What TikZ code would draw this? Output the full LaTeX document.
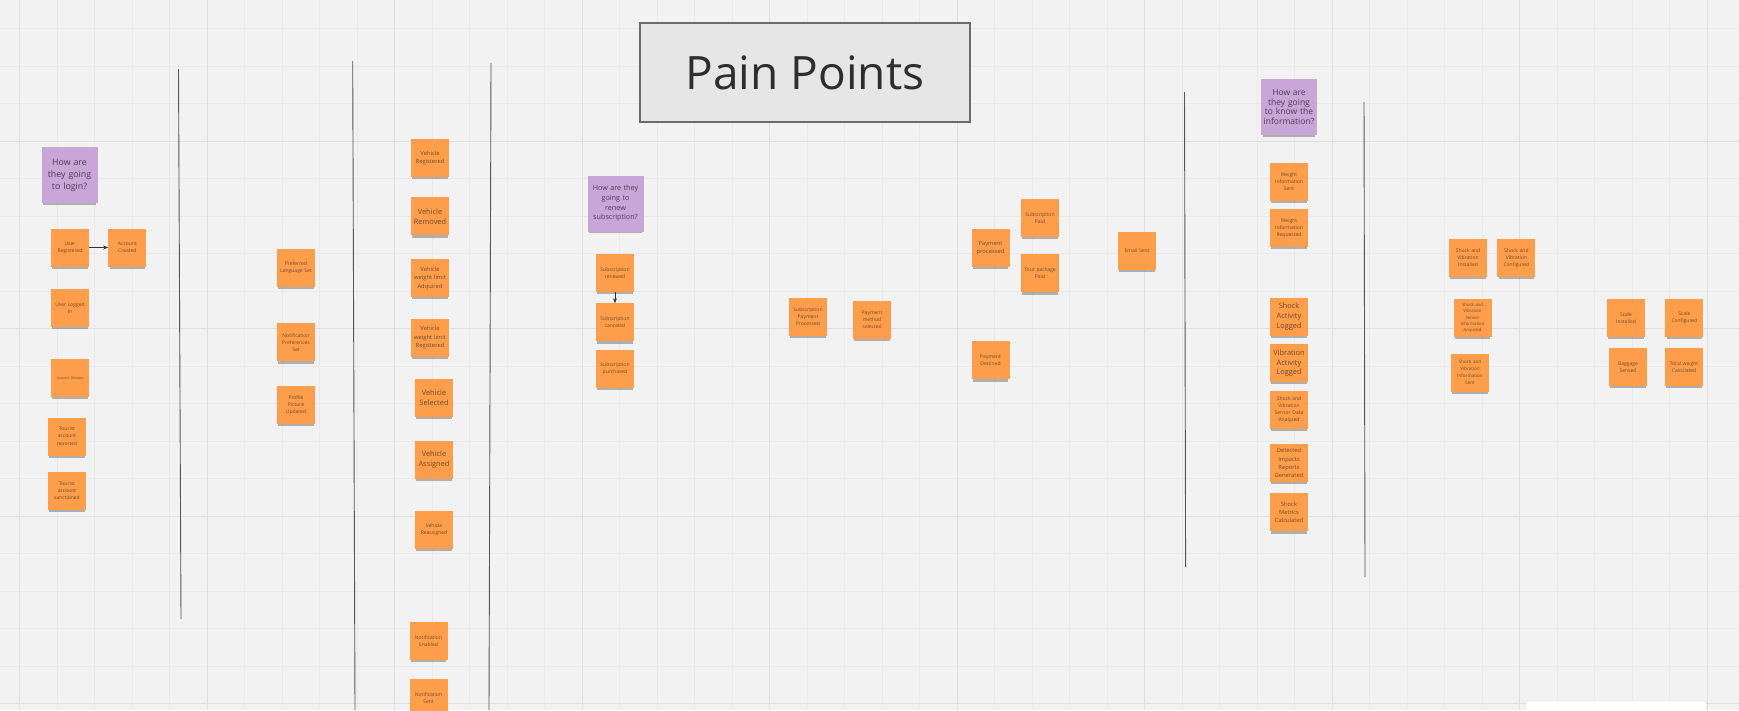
\documentclass[tikz,border=0pt]{standalone}
\usepackage{fontspec}
\setmainfont{Open Sans}
\usepackage{tikz}
\usetikzlibrary{
  arrows.meta,
  positioning,
  shadows
}
\definecolor{BoardGrey}{HTML}{F2F2F2}
\definecolor{GridMinor}{HTML}{EAEAEA}
\definecolor{GridMajor}{HTML}{DFDFDF}
\definecolor{StickyOrange}{HTML}{FF9E4A}
\definecolor{StickyViolet}{HTML}{C9A5D8}
\definecolor{InkBrown}{HTML}{6E4A2E}
\definecolor{InkPlum}{HTML}{4A3E52}
\definecolor{Divider}{HTML}{555555}
\definecolor{TitleFill}{HTML}{E6E6E6}
\definecolor{TitleEdge}{HTML}{6B6B6B}
\tikzset{
  % Orange sticky note: fixed square
  note/.style={
    rectangle, fill=StickyOrange, text=InkBrown,
    minimum width=38pt, minimum height=38pt, inner sep=0pt,
    text width=37pt, align=center,
    font=\fontsize{5}{7.1}\selectfont,
    drop shadow={shadow xshift=0pt, shadow yshift=-3.5pt,
      shadow scale=0.94, opacity=0.4, fill=black!70}
  },
  % Slightly larger note text
  midnote/.style={note, font=\fontsize{5.8}{8.3}\selectfont},
  % Large note text
  bignote/.style={note, font=\fontsize{7.4}{9.8}\selectfont},
  % Very small note text
  tinynote/.style={note, font=\fontsize{4.3}{6.2}\selectfont},
  % Purple question note
  ask/.style={
    note, fill=StickyViolet, text=InkPlum,
    minimum width=56pt, minimum height=56pt, text width=55pt,
    font=\fontsize{8.8}{12}\selectfont
  },
  % Board title
  board/.style={
    rectangle, draw=TitleEdge, fill=TitleFill, line width=1.1pt,
    minimum width=330pt, minimum height=99pt,
    text=black!82, font=\fontsize{46}{50}\selectfont
  },
  % Arrow
  arr/.style={
    -{Stealth[length=5pt,width=4pt]},
    line width=0.8pt, color=#1
  },
  % Swimlane separator
  lane/.style={draw=Divider, line width=0.9pt}
}
\begin{document}
\begin{tikzpicture}[x=1pt, y=-1pt]
  \useasboundingbox (0,0) rectangle (1739,710);
  \fill[BoardGrey] (0,0) rectangle (1739,710);
  % board grid
  \foreach \i in {0,...,45}
    \draw[GridMinor, line width=0.7pt] ({19.5+37.5*\i},0) -- ++(0,710);
  \foreach \j in {0,...,18}
    \draw[GridMinor, line width=0.7pt] (0,{28.5+37.5*\j}) -- ++(1739,0);
  \foreach \i in {0,5,...,45}
    \draw[GridMajor, line width=0.9pt] ({19.5+37.5*\i},0) -- ++(0,710);
  \foreach \j in {3,8,13,18}
    \draw[GridMajor, line width=0.9pt] (0,{28.5+37.5*\j}) -- ++(1739,0);

  % lanes
  \draw[lane] (178.5,69) -- (181,619);
  \draw[lane] (352.7,61) -- (355,710);
  \draw[lane] (491,63) -- (489,710);
  \draw[lane] (1184.5,92) -- (1185.6,567);
  \draw[lane] (1364,102) -- (1365,577);

  \node[board] (title) at (805,72.5) {Pain Points};

  % account
  \node[ask] (qlogin) at (69.5,175) {How are\\they going\\to login?};
  \node[note] (ureg) at (70,247.5) {User\\Registered};
  \node[note, right=19pt of ureg] (acre) {Account\\Created};
  \node[note, below=22pt of ureg] (ulog) {User Logged\\In};
  \node[note, font=\fontsize{3.4}{4}\selectfont, below=32pt of ulog] (adel) {Account Deleted};
  \node[note, below=20pt of adel, xshift=-3pt] (trep) {Tourist\\account\\reported};
  \node[note, below=15.5pt of trep] (tsanc) {Tourist\\account\\sanctioned};

  % profile
  \node[note] (plang) at (296,268) {Preferred\\Language Set};
  \node[note, below=36pt of plang] (npref) {Notification\\Preferences\\Set};
  \node[note, below=24.5pt of npref] (ppic) {Profile\\Picture\\Updated};

  % vehicle
  \node[midnote] (vreg) at (430,158) {Vehicle\\Registered};
  \node[bignote, below=20pt of vreg] (vrem) {Vehicle\\Removed};
  \node[midnote, below=23.5pt of vrem] (vwacq) {Vehicle\\weight limit\\Adquired};
  \node[midnote, below=21pt of vwacq] (vwreg) {Vehicle\\weight limit\\Registered};
  \node[bignote, below=22pt of vwreg, xshift=4pt] (vsel) {Vehicle\\Selected};
  \node[bignote, below=23pt of vsel] (vasg) {Vehicle\\Assigned};
  \node[note, below=32pt of vasg] (vreas) {Vehicle\\Reassigned};
  \node[note, below=73pt of vreas, xshift=-5.5pt] (nena) {Notification\\Enabled};
  \node[note, below=18pt of nena] (nsent) {Notification\\Sent};

  % subscription
  \node[ask, font=\fontsize{7.2}{9.6}\selectfont] (qrenew) at (615.5,203.5) {How are they\\going to\\renew\\subscription?};
  \node[note] (srenew) at (615,273) {Subscription\\renewed};
  \node[note, below=11pt of srenew] (scancel) {Subscription\\canceled};
  \node[note, below=8pt of scancel] (spurch) {Subscription\\purchased};

  % payment
  \node[note] (spp) at (808,317) {Subscription\\Payment\\Processed};
  \node[note] (pms) at (872,320) {Payment\\method\\selected};
  \node[midnote] (pproc) at (990.5,248) {Payment\\processed};
  \node[note, below=74pt of pproc] (pdecl) {Payment\\Declined};
  \node[note] (spaid) at (1040,218) {Subscription\\Paid};
  \node[note, below=17pt of spaid] (tpaid) {Tour package\\Paid};
  \node[note] (esent) at (1137,251) {Email Sent};

  % sensor information
  \node[ask, font=\fontsize{8.5}{9.5}\selectfont] (qinfo) at (1289,107) {How are\\they going\\to know the\\information?};
  \node[note] (wsent) at (1289,182) {Weight\\Information\\Sent};
  \node[note, below=7.5pt of wsent] (wreq) {Weight\\Information\\Requested};
  \node[bignote, below=50.5pt of wreq] (shlog) {Shock\\Activity\\Logged};
  \node[bignote, below=8pt of shlog] (vilog) {Vibration\\Activity\\Logged};
  \node[note, below=8pt of vilog] (sdata) {Shock and\\Vibration\\Sensor Data\\Analyzed};
  \node[midnote, below=15pt of sdata] (dirg) {Detected\\Impacts\\Reports\\Generated};
  \node[midnote, below=11pt of dirg] (smc) {Shock\\Metrics\\Calculated};

  % shock sensor
  \node[note] (svi) at (1468,258) {Shock and\\Vibration\\Installed};
  \node[note, right=10pt of svi] (svc) {Shock and\\Vibration\\Configured};
  \node[tinynote] (svsia) at (1472.5,318) {Shock and\\Vibration\\Sensor\\Information\\Acquired};
  \node[note, font=\fontsize{4.6}{7}\selectfont] (svis) at (1470,372.5) {Shock and\\Vibration\\Information\\Sent};

  % scale
  \node[note] (scin) at (1626,318) {Scale\\Installed};
  \node[note, right=20pt of scin] (scconf) {Scale\\Configured};
  \node[note] (bsen) at (1628,367) {Baggage\\Sensed};
  \node[note] (tw) at (1684,367) {Total weight\\Calculated};

  \draw[arr=black!80] (ureg) -- (acre);
  \draw[arr=black!80] (srenew) -- (scancel);

  \draw[GridMajor, fill=white, rounded corners=2pt] (1526,701) rectangle (1706,714);
\end{tikzpicture}
\end{document}
